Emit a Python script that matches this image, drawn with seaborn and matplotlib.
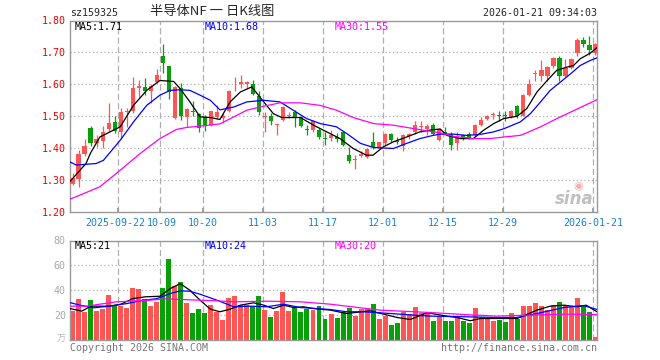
import numpy as np
import pandas as pd
import matplotlib
matplotlib.use("Agg")
import matplotlib.pyplot as plt
import matplotlib.transforms as mtrans
import seaborn as sns

sns.set_theme(style="white")
plt.rcParams["font.family"] = ["DejaVu Sans Mono", "Noto Sans CJK SC"]

# daily candles (bar 0 = 2025-09-10, bar 87 = 2026-01-21)
opens = [1.287, 1.302, 1.383, 1.463, 1.416, 1.424, 1.460, 1.481, 1.452, 1.514,
         1.515, 1.590, 1.592, 1.578, 1.607, 1.688, 1.656, 1.493, 1.590, 1.499,
         1.517, 1.508, 1.498, 1.472, 1.499, 1.494, 1.515, 1.609, 1.600, 1.600,
         1.600, 1.564, 1.498, 1.500, 1.474, 1.489, 1.500, 1.513, 1.497, 1.459,
         1.457, 1.457, 1.433, 1.432, 1.436, 1.450, 1.380, 1.362, 1.374, 1.372,
         1.420, 1.402, 1.416, 1.443, 1.424, 1.407, 1.438, 1.450, 1.467, 1.460,
         1.474, 1.427, 1.452, 1.444, 1.416, 1.440, 1.444, 1.442, 1.473, 1.490,
         1.503, 1.503, 1.502, 1.499, 1.532, 1.501, 1.566, 1.633, 1.627, 1.627,
         1.657, 1.681, 1.627, 1.652, 1.697, 1.738, 1.724, 1.698]
highs = [1.322, 1.394, 1.430, 1.469, 1.440, 1.468, 1.543, 1.500, 1.527, 1.527,
         1.622, 1.615, 1.621, 1.600, 1.647, 1.725, 1.657, 1.595, 1.605, 1.526,
         1.547, 1.510, 1.503, 1.518, 1.535, 1.510, 1.582, 1.622, 1.630, 1.610,
         1.613, 1.580, 1.513, 1.510, 1.477, 1.532, 1.514, 1.520, 1.500, 1.474,
         1.489, 1.462, 1.450, 1.456, 1.449, 1.452, 1.405, 1.378, 1.390, 1.400,
         1.450, 1.420, 1.448, 1.447, 1.436, 1.443, 1.447, 1.485, 1.485, 1.476,
         1.478, 1.462, 1.467, 1.452, 1.452, 1.444, 1.452, 1.475, 1.497, 1.505,
         1.514, 1.515, 1.516, 1.520, 1.535, 1.570, 1.617, 1.645, 1.675, 1.657,
         1.686, 1.690, 1.680, 1.681, 1.744, 1.749, 1.750, 1.731]
lows = [1.284, 1.279, 1.375, 1.406, 1.405, 1.402, 1.452, 1.447, 1.430, 1.467,
        1.510, 1.560, 1.567, 1.543, 1.603, 1.635, 1.555, 1.490, 1.488, 1.465,
        1.500, 1.452, 1.455, 1.470, 1.490, 1.480, 1.513, 1.580, 1.587, 1.588,
        1.567, 1.504, 1.452, 1.473, 1.442, 1.485, 1.494, 1.467, 1.466, 1.440,
        1.452, 1.430, 1.411, 1.423, 1.418, 1.408, 1.353, 1.336, 1.372, 1.368,
        1.396, 1.400, 1.410, 1.420, 1.414, 1.392, 1.430, 1.443, 1.450, 1.440,
        1.442, 1.423, 1.440, 1.395, 1.395, 1.426, 1.428, 1.437, 1.468, 1.488,
        1.490, 1.484, 1.486, 1.494, 1.496, 1.500, 1.564, 1.610, 1.612, 1.610,
        1.650, 1.610, 1.624, 1.648, 1.690, 1.718, 1.693, 1.692]
closes = [1.305, 1.383, 1.406, 1.417, 1.430, 1.451, 1.478, 1.453, 1.513, 1.517,
          1.590, 1.594, 1.580, 1.596, 1.630, 1.667, 1.576, 1.592, 1.500, 1.524,
          1.514, 1.463, 1.472, 1.516, 1.512, 1.502, 1.579, 1.611, 1.606, 1.607,
          1.571, 1.512, 1.500, 1.484, 1.476, 1.530, 1.503, 1.498, 1.470, 1.457,
          1.486, 1.434, 1.430, 1.440, 1.430, 1.410, 1.360, 1.364, 1.381, 1.398,
          1.403, 1.418, 1.445, 1.427, 1.419, 1.442, 1.445, 1.474, 1.469, 1.468,
          1.445, 1.460, 1.442, 1.410, 1.436, 1.431, 1.429, 1.473, 1.489, 1.502,
          1.505, 1.501, 1.500, 1.517, 1.501, 1.567, 1.600, 1.635, 1.645, 1.655,
          1.683, 1.627, 1.652, 1.678, 1.738, 1.727, 1.708, 1.727]
volumes = [23.2, 32.8, 22.4, 32.0, 23.2, 24.8, 36.0, 28.0, 27.2, 25.6,
           41.6, 40.8, 32.8, 27.2, 30.4, 41.6, 64.8, 43.2, 46.4, 29.6,
           21.6, 24.8, 21.6, 28.0, 22.4, 16.0, 33.6, 35.2, 28.0, 28.0,
           27.2, 35.2, 24.0, 18.4, 23.2, 38.4, 23.2, 26.4, 22.4, 24.8,
           24.0, 27.2, 16.8, 20.8, 17.3, 22.4, 25.6, 19.2, 24.8, 25.6,
           28.8, 16.8, 19.2, 12.0, 13.6, 22.4, 20.8, 26.4, 21.6, 22.4,
           15.2, 18.4, 15.2, 15.2, 18.4, 15.2, 13.6, 25.6, 18.4, 17.6,
           15.2, 16.0, 14.4, 21.6, 16.8, 27.2, 27.2, 29.6, 27.2, 24.0,
           28.0, 30.4, 28.0, 26.4, 33.6, 28.0, 22.4, 2.4]

# moving average lines (bar index, value)
ma5_x = [-0.5, 2.2, 2.9, 4.5, 6.2, 7.9, 10.1, 12.3, 14.5, 16.8, 17.9, 19.5, 21.2, 22.9,
         24.5, 26.2, 27.9, 29.8, 31.8, 33.4, 34.8, 37.9, 40.1, 42.3, 44.5, 46.7, 48.9,
         50, 51.7, 53.4, 55.6, 57.8, 60, 61.2, 62.3, 64.5, 66.7, 68.4, 70.1, 71.8, 74,
         75.6, 77.3, 79, 80.6, 82.3, 83.4, 84.5, 86.2, 87.3]
ma5_y = [1.295, 1.352, 1.383, 1.435, 1.451, 1.467, 1.534, 1.581, 1.612, 1.609, 1.586,
         1.545, 1.498, 1.496, 1.490, 1.545, 1.576, 1.592, 1.545, 1.508, 1.496, 1.496,
         1.472, 1.451, 1.430, 1.399, 1.378, 1.378, 1.404, 1.420, 1.435, 1.451, 1.458,
         1.460, 1.440, 1.430, 1.430, 1.456, 1.477, 1.493, 1.500, 1.524, 1.576, 1.612,
         1.644, 1.654, 1.659, 1.680, 1.698, 1.715]
ma10_x = [-0.5, 0.6, 3.9, 5.1, 7.9, 10.1, 12.3, 14.5, 16.2, 17.9, 19.5, 21.2, 22.9, 24.5,
          26.8, 29, 31.8, 34.5, 36.7, 38.9, 41.2, 43.9, 45.6, 47.9, 50.1, 53.4, 55.6,
          57.8, 60, 61.2, 63.4, 65.6, 67.8, 70.1, 71.8, 74.5, 76.2, 77.9, 79.5, 81.2,
          82.9, 84.5, 86.2, 87.3]
ma10_y = [1.357, 1.347, 1.352, 1.362, 1.425, 1.482, 1.534, 1.566, 1.581, 1.583, 1.581,
          1.566, 1.550, 1.520, 1.529, 1.545, 1.550, 1.545, 1.519, 1.493, 1.477, 1.467,
          1.446, 1.415, 1.402, 1.399, 1.415, 1.430, 1.440, 1.444, 1.444, 1.440, 1.443,
          1.451, 1.461, 1.482, 1.508, 1.545, 1.581, 1.607, 1.633, 1.659, 1.675, 1.683]
ma30_x = [-0.5, 1.2, 4.5, 7.9, 11.2, 14.5, 17.3, 19, 21.2, 24.5, 26.8, 29, 31.2, 34.5,
          37.9, 41.2, 43.9, 46.7, 50.1, 53.4, 55.6, 57.8, 61.2, 63.4, 66.7, 69.5, 71.8,
          74.5, 75.6, 77.9, 81.2, 84.5, 87.3]
ma30_y = [1.240, 1.253, 1.279, 1.331, 1.383, 1.430, 1.459, 1.465, 1.469, 1.476, 1.498,
          1.519, 1.529, 1.542, 1.542, 1.534, 1.519, 1.496, 1.477, 1.472, 1.465, 1.458,
          1.448, 1.437, 1.430, 1.430, 1.435, 1.440, 1.448, 1.467, 1.498, 1.527, 1.552]

vma5_x = [-0.5, 1.5, 3, 6, 8, 10, 12, 14.5, 16.2, 17.9, 19.5, 21.2, 22.9, 24.5, 26.2,
          27.9, 30.1, 31.8, 33.4, 35.1, 36.8, 38.4, 40.1, 42.9, 45.6, 49.5, 54, 56.2,
          59, 62.3, 64, 66.2, 67.9, 70.6, 74, 77.3, 79.5, 81.8, 84, 85.5, 87.3]
vma5_y = [25.3, 23.2, 27.2, 27.2, 28.8, 33.3, 34.7, 35.2, 41.3, 45.3, 40.0, 32.0, 24.8,
          22.7, 24.8, 28.0, 29.9, 28.0, 25.3, 28.0, 26.1, 26.7, 25.3, 24.0, 21.3, 23.5,
          18.1, 16.5, 21.9, 19.2, 18.1, 15.5, 17.3, 17.3, 17.3, 24.0, 27.2, 28.0, 26.7,
          28.0, 22.7]
vma10_x = [-0.5, 1.2, 3.5, 6.2, 9, 11.2, 14, 16.2, 17.9, 19.5, 21.2, 24, 26.8, 29.5,
           32.3, 35.1, 37.9, 40.6, 42.9, 45.6, 48.4, 52.9, 56.8, 59.5, 65.1, 70.6, 73.9,
           77.3, 81.8, 85.1, 87.3]
vma10_y = [30.1, 28.0, 25.9, 27.2, 29.3, 31.5, 33.3, 37.3, 39.5, 39.2, 36.8, 32.0, 26.7,
           27.2, 26.7, 28.8, 26.1, 25.3, 24.5, 22.7, 22.7, 21.3, 20.0, 19.2, 18.7, 18.1,
           18.1, 21.3, 26.1, 27.7, 24.5]
vma30_x = [-0.5, 2.3, 4.5, 7.3, 12.8, 15.6, 18.4, 24, 26.8, 32.3, 37.9, 42.9, 45.6,
           51.2, 59.5, 65.1, 70.6, 76.2, 81.8, 87.3]
vma30_y = [27.2, 27.2, 28.8, 30.7, 32.0, 33.1, 32.5, 31.5, 30.7, 31.2, 30.7, 28.8, 27.2,
           24.0, 22.1, 20.5, 19.2, 20.0, 20.8, 20.5]

tick_bars = [8, 15, 22, 32, 42, 52, 62, 72, 87]
tick_labels = ["2025-09-22", "10-09", "10-20", "11-03", "11-17",
               "12-01", "12-15", "12-29", "2026-01-21"]

df = pd.DataFrame({"open": opens, "high": highs, "low": lows,
                   "close": closes, "vol": volumes})
df["x"] = np.arange(len(df))
UP, DOWN = "#ff5555", "#08a008"
df["color"] = np.where(df["close"] >= df["open"], UP, DOWN)

W, H = 660, 360
fs = 7.2
fig = plt.figure(figsize=(W / 100, H / 100), dpi=100)
ax = fig.add_axes([70 / W, 1 - 212 / H, 527 / W, 191.5 / H])
axv = fig.add_axes([70 / W, 1 - 340 / H, 527 / W, 99.5 / H])

grid_c = "#b0b0b0"
for a in (ax, axv):
    for b in tick_bars:
        a.axvline(b - 0.4, color=grid_c, ls=(0, (5, 2.5)), lw=0.9, zorder=0)
    for s in a.spines.values():
        s.set_color("#999999")
        s.set_linewidth(1)
    a.set_xlim(-0.47, 87.3)

for y in [1.3, 1.4, 1.5, 1.6, 1.7]:
    ax.axhline(y, color=grid_c, ls=(0, (1, 2)), lw=0.9, zorder=0)
for y in [20, 40, 60]:
    axv.axhline(y, color=grid_c, ls=(0, (1, 2)), lw=0.9, zorder=0)

# candles
ax.vlines(df["x"], df["low"], df["high"], colors=df["color"], lw=0.9, zorder=2)
body_lo = df[["open", "close"]].min(axis=1)
body_h = (df["close"] - df["open"]).abs().clip(lower=0.003)
ax.bar(df["x"], body_h, bottom=body_lo, width=0.78, color=df["color"], lw=0, zorder=3)

sns.lineplot(x=ma5_x, y=ma5_y, ax=ax, color="black", lw=0.9, zorder=4)
sns.lineplot(x=ma10_x, y=ma10_y, ax=ax, color="#0000ff", lw=0.9, zorder=4)
sns.lineplot(x=ma30_x, y=ma30_y, ax=ax, color="#ff00ff", lw=0.9, zorder=4)

ax.set_ylim(1.2, 1.8)
ax.set_yticks(np.round(np.arange(1.2, 1.81, 0.1), 2))
ax.set_yticklabels([f"{v:.2f}" for v in ax.get_yticks()], color="#ee0000", fontsize=fs)
ax.set_xticks([b - 0.4 for b in tick_bars])
ax.set_xticklabels(tick_labels, color="#1a80d0", fontsize=fs)
ax.tick_params(axis="x", direction="in", length=3, color="#999999", pad=4, bottom=True)
ax.tick_params(axis="y", length=0, pad=3)
ax.set_xlabel("")
ax.set_ylabel("")
# the first two date labels sit very close together, as in the source chart
xl = ax.get_xticklabels()
xl[0].set_transform(xl[0].get_transform() + mtrans.ScaledTranslation(-3.5 / 100, 0, fig.dpi_scale_trans))
xl[1].set_transform(xl[1].get_transform() + mtrans.ScaledTranslation(1.5 / 100, 0, fig.dpi_scale_trans))

# volume
axv.bar(df["x"], df["vol"], width=0.83, color=df["color"], lw=0, zorder=2)
sns.lineplot(x=vma5_x, y=vma5_y, ax=axv, color="black", lw=0.9, zorder=4)
sns.lineplot(x=vma10_x, y=vma10_y, ax=axv, color="#0000ff", lw=0.9, zorder=4)
sns.lineplot(x=vma30_x, y=vma30_y, ax=axv, color="#ff00ff", lw=0.9, zorder=4)
axv.set_ylim(0, 80)
axv.set_yticks([20, 40, 60, 80])
axv.set_yticklabels(["20", "40", "60", "80"], color="#aaaaaa", fontsize=fs)
axv.tick_params(axis="y", length=0, pad=3)
axv.set_xticks([])
axv.set_xlabel("")
axv.set_ylabel("")


def px(x, y):
    return x / W, 1 - y / H


fig.text(*px(70, 13), "sz159325", fontsize=fs, va="center", ha="left")
fig.text(*px(150, 12), "半导体NF 一 日K线图", fontsize=9.5, va="center", ha="left",
         family=["Noto Sans CJK SC", "DejaVu Sans"])
fig.text(*px(597, 13), "2026-01-21 09:34:03", fontsize=fs, va="center", ha="right")

fig.text(*px(75, 27), "MA5:1.71", fontsize=fs, va="center", color="black")
fig.text(*px(205, 27), "MA10:1.68", fontsize=fs, va="center", color="#0000ff")
fig.text(*px(335, 27), "MA30:1.55", fontsize=fs, va="center", color="#ff00ff")
fig.text(*px(75, 246), "MA5:21", fontsize=fs, va="center", color="black")
fig.text(*px(205, 246), "MA10:24", fontsize=fs, va="center", color="#0000ff")
fig.text(*px(335, 246), "MA30:20", fontsize=fs, va="center", color="#ff00ff")

fig.text(*px(66, 339), "万", fontsize=6.5, va="center", ha="right", color="#bbbbbb",
         family=["Noto Sans CJK SC", "DejaVu Sans"])
fig.text(*px(70, 348), "Copyright 2026 SINA.COM", fontsize=fs, va="center", color="#777777")
fig.text(*px(597, 348), "http://finance.sina.com.cn", fontsize=fs, va="center",
         ha="right", color="#777777")
fig.text(*px(594, 199), "sina", fontsize=12, va="center", ha="right", color="#c0c0c0",
         style="italic", weight="bold", family="DejaVu Sans")
fig.text(*px(578, 186), "◉", fontsize=8, va="center", ha="center", color="#f6b0b0",
         family="DejaVu Sans")

fig.savefig("out.png", dpi=100)
